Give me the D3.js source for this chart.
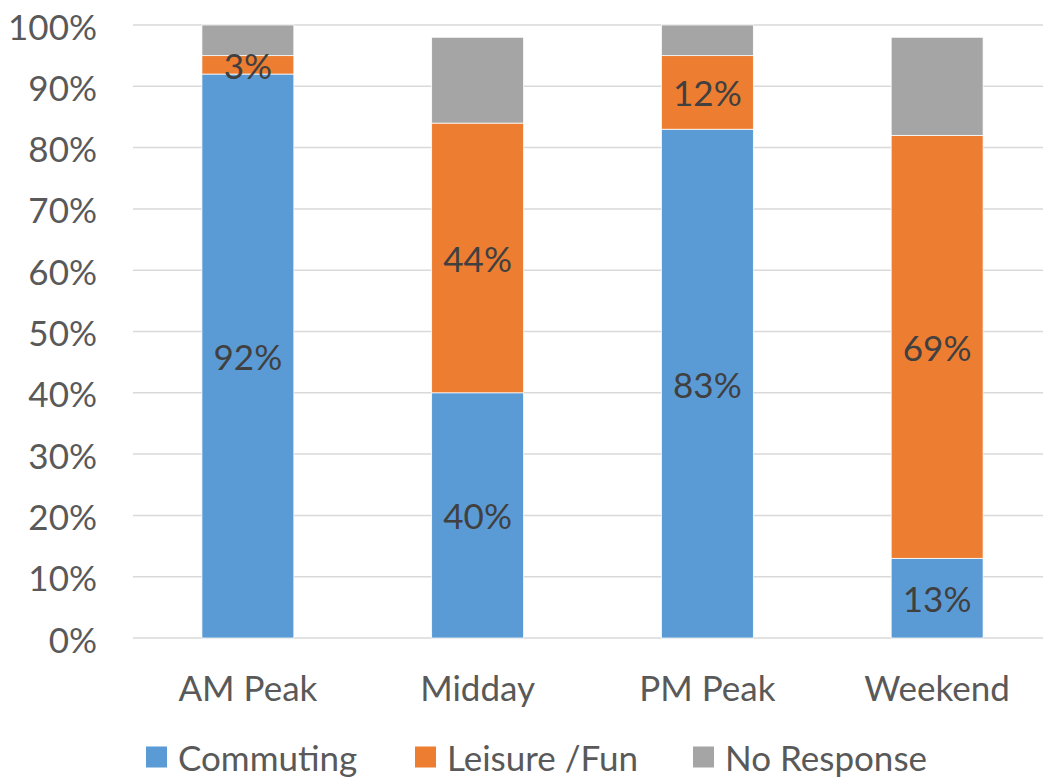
<!DOCTYPE html>
<html>
<head>
<meta charset="utf-8">
<script src="https://cdn.jsdelivr.net/npm/d3@7"></script>
<style>
  html, body { margin: 0; padding: 0; background: #fff; }
  svg text { font-family: "Lato", "Open Sans", sans-serif; }
</style>
</head>
<body>
<svg id="chart" width="1043" height="779"></svg>
<script>
// Trip purpose share by time period
const categories = ["AM Peak", "Midday", "PM Peak", "Weekend"];
const seriesNames = ["Commuting", "Leisure /Fun", "No Response"];
const commuting = [92, 40, 83, 13];
const leisure = [3, 44, 12, 69];
const noResponse = [5, 14, 5, 16];
const yTicks = [0, 10, 20, 30, 40, 50, 60, 70, 80, 90, 100];
const colors = ["#5b9bd5", "#ed7d31", "#a5a5a5"];

const rows = categories.map((c, i) => ({
  category: c,
  "Commuting": commuting[i],
  "Leisure /Fun": leisure[i],
  "No Response": noResponse[i]
}));

const svg = d3.select("#chart");
const margin = { left: 133, right: -9, top: 25, bottom: 141 };
const W = 1043, H = 779;
const fontSize = "35px";

const x = d3.scaleBand()
  .domain(categories)
  .range([margin.left, W - margin.right])
  .paddingInner(0.6)
  .paddingOuter(0.3);

const y = d3.scaleLinear()
  .domain([0, 100])
  .range([H - margin.bottom, margin.top]);

// gridlines
svg.append("g")
  .selectAll("line")
  .data(yTicks)
  .join("line")
  .attr("x1", margin.left)
  .attr("x2", W)
  .attr("y1", d => y(d))
  .attr("y2", d => y(d))
  .attr("stroke", "#d9d9d9")
  .attr("stroke-width", 1.5);

// y axis labels
const yAxis = d3.axisLeft(y)
  .tickValues(yTicks)
  .tickFormat(d => d + "%")
  .tickSize(0)
  .tickPadding(0);
const gy = svg.append("g")
  .attr("transform", `translate(97,0)`)
  .call(yAxis);
gy.select(".domain").remove();
gy.selectAll("text")
  .attr("fill", "#595959")
  .attr("dy", null)
  .attr("dominant-baseline", "central")
  .style("font-size", fontSize);

// stacked bars
const stack = d3.stack().keys(seriesNames);
const stacked = stack(rows);

const layers = svg.append("g")
  .selectAll("g")
  .data(stacked)
  .join("g")
  .attr("fill", (d, i) => colors[i]);

layers.selectAll("rect")
  .data(d => d)
  .join("rect")
  .attr("x", d => x(d.data.category))
  .attr("width", x.bandwidth())
  .attr("y", d => y(d[1]))
  .attr("height", d => y(d[0]) - y(d[1]))
  .attr("stroke", "#ffffff")
  .attr("stroke-width", 0.75);

// value labels for commuting and leisure
stacked.slice(0, 2).forEach(layer => {
  svg.append("g")
    .selectAll("text")
    .data(layer)
    .join("text")
    .attr("x", d => x(d.data.category) + x.bandwidth() / 2)
    .attr("y", d => (y(d[0]) + y(d[1])) / 2)
    .attr("text-anchor", "middle")
    .attr("dominant-baseline", "central")
    .attr("fill", "#404040")
    .style("font-size", fontSize)
    .text(d => (d[1] - d[0]) + "%");
});

// x axis
const xAxis = d3.axisBottom(x).tickSize(0).tickPadding(0);
const gx = svg.append("g")
  .attr("transform", `translate(0,${y(0)})`)
  .call(xAxis);
gx.select(".domain").remove();
gx.selectAll("text")
  .attr("fill", "#595959")
  .attr("dy", null)
  .attr("y", 49)
  .attr("dominant-baseline", "central")
  .style("font-size", fontSize);

// legend
const legendX = [146, 415, 693];
const legend = svg.append("g")
  .selectAll("g")
  .data(seriesNames)
  .join("g")
  .attr("transform", (d, i) => `translate(${legendX[i]},757)`);
legend.append("rect")
  .attr("x", 0)
  .attr("y", -10.5)
  .attr("width", 21)
  .attr("height", 21)
  .attr("fill", (d, i) => colors[i]);
legend.append("text")
  .attr("x", 32)
  .attr("y", 0)
  .attr("dominant-baseline", "central")
  .attr("fill", "#595959")
  .style("font-size", fontSize)
  .text(d => d);
</script>
</body>
</html>
